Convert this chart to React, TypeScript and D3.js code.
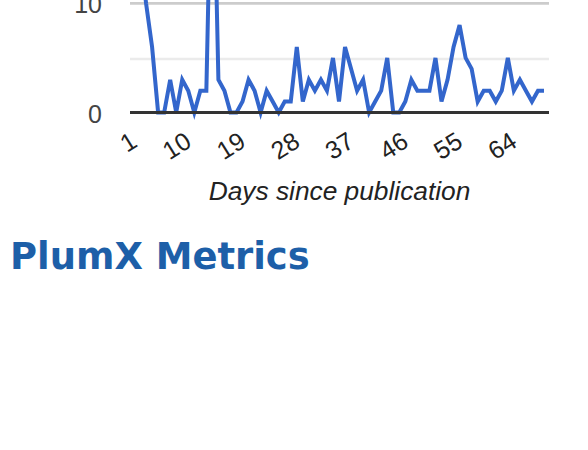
import React from "react";
import * as d3 from "d3";

const days: number[] = Array.from({ length: 69 }, (_, i) => i + 1);
const views: number[] = [
  22, 15, 10, 6, 0, 0, 3, 0, 3, 2,
  0, 2, 2, 28, 3, 2, 0, 0, 1, 3,
  2, 0, 2, 1, 0, 1, 1, 6, 1, 3,
  2, 3, 2, 5, 1, 6, 4, 2, 3, 0,
  1, 2, 5, 0, 0, 1, 3, 2, 2, 2,
  5, 1, 3, 6, 8, 5, 4, 1, 2, 2,
  1, 2, 5, 2, 3, 2, 1, 2, 2,
];
const xTickDays: number[] = [1, 10, 19, 28, 37, 46, 55, 64];
const yMajorTicks: number[] = [10];
const yMinorTicks: number[] = [5];
const yLabelTicks: number[] = [0, 10];
const xTitle = "Days since publication";
const heading = "PlumX Metrics";

const W = 588;
const H = 450;

export default function App() {
  const x = d3.scalePoint<number>().domain(days).range([134, 544]);
  const y = d3.scaleLinear().domain([0, 10]).range([112.5, 3.3]);
  const areaLeft = 130;
  const areaRight = 549;

  const line = d3
    .line<number>()
    .x((_, i) => x(days[i]) as number)
    .y((v) => y(v));

  const labelFont = "'Liberation Sans', Arial, sans-serif";

  return (
    <svg
      width={W}
      height={H}
      style={{ position: "absolute", top: 0, left: 0, background: "#fff" }}
    >
      <rect x={0} y={0} width={W} height={H} fill="#fff" />
      {yMinorTicks.map((t) => (
        <line key={"mi" + t} x1={areaLeft} x2={areaRight} y1={y(t) + 1} y2={y(t) + 1} stroke="#ebebeb" strokeWidth={2.5} />
      ))}
      {yMajorTicks.map((t) => (
        <line key={"ma" + t} x1={areaLeft} x2={areaRight} y1={y(t)} y2={y(t)} stroke="#cccccc" strokeWidth={2.7} />
      ))}
      <path d={line(views) || ""} fill="none" stroke="#3366cc" strokeWidth={4} />
      <line x1={areaLeft} x2={areaRight} y1={y(0)} y2={y(0)} stroke="#333333" strokeWidth={3} />
      {yLabelTicks.map((t) => (
        <text
          key={"yl" + t}
          x={102}
          y={y(t) + 1}
          textAnchor="end"
          dominantBaseline="central"
          fontFamily={labelFont}
          fontSize={25}
          fill="#444444"
        >
          {t}
        </text>
      ))}
      {xTickDays.map((d) => {
        const tx = x(d) as number;
        const ty = 138;
        return (
          <text
            key={"xl" + d}
            x={tx}
            y={ty}
            textAnchor="end"
            dominantBaseline="central"
            fontFamily={labelFont}
            fontSize={25}
            fill="#222222"
            transform={`rotate(-32 ${tx} ${ty})`}
          >
            {d}
          </text>
        );
      })}
      <text
        x={(areaLeft + areaRight) / 2}
        y={200}
        textAnchor="middle"
        fontFamily={labelFont}
        fontStyle="italic"
        fontSize={26.3}
        fill="#222222"
      >
        {xTitle}
      </text>
      <text
        x={10}
        y={269}
        fontFamily="'DejaVu Sans', sans-serif"
        fontWeight="bold"
        fontSize={36.9}
        fill="#1d5fa8"
      >
        {heading}
      </text>
    </svg>
  );
}
